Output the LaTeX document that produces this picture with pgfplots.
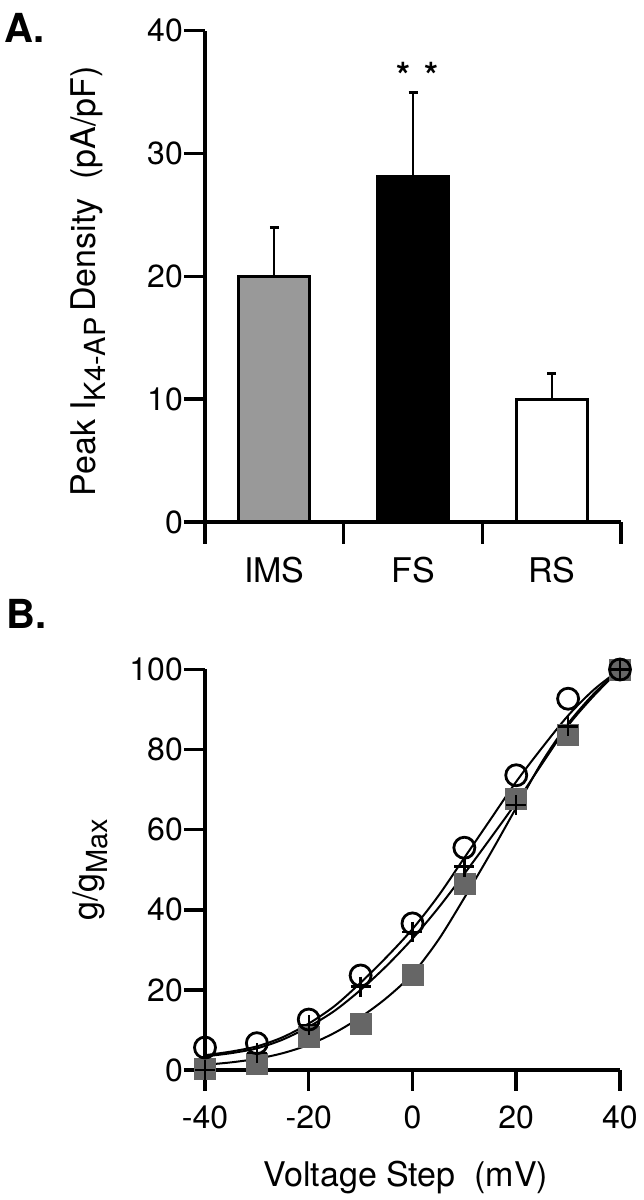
\documentclass[border=0pt]{standalone}
\usepackage{fontspec}
\setmainfont{TeX Gyre Heros}
\usepackage{pgfplots}
\pgfplotsset{compat=1.18}
\newcommand{\tickfont}{\fontsize{32}{36}\selectfont}
\newcommand{\labfont}{\fontsize{34}{38}\selectfont}
\newcommand{\subfont}{\fontsize{29}{32}\selectfont}
\begin{document}
\begin{tikzpicture}[x=1pt,y=1pt]
\useasboundingbox (0,0) rectangle (644,1200);
\node[anchor=north west, inner sep=0pt, font=\fontsize{40}{44}\selectfont\bfseries] at (4,1187) {A.};
\node[anchor=north west, inner sep=0pt, font=\fontsize{40}{44}\selectfont\bfseries] at (6,601) {B.};
% ---------------- Panel A ----------------
\begin{axis}[
  at={(205pt,678pt)}, anchor=south west, scale only axis,
  width=416pt, height=491.3pt,
  xmin=0, xmax=3, ymin=0, ymax=40,
  clip=false,
  axis x line*=bottom, axis y line*=left,
  x axis line style={line width=3.5pt,-},
  y axis line style={line width=3.5pt,-},
  tick align=outside,
  major tick length=21pt, minor tick length=22pt,
  tick style={black, line width=3.5pt},
  xtick={0.5,1.5,2.5}, xticklabels={IMS,FS,RS},
  major x tick style={draw=none},
  minor xtick={0,1,2,3},
  ytick={0,10,20,30,40}, yticklabels={0,10,20,30,40},
  xticklabel style={font=\labfont, inner sep=0pt, yshift=-14pt},
  yticklabel style={font=\tickfont, inner sep=1pt},
  ylabel={Peak I\raisebox{-10pt}{\subfont K4-AP}\,Density\ \ (pA/pF)},
  ylabel style={font=\labfont, at={(axis description cs:-0.28,0.49)}, anchor=center},
]
\addplot[ybar, bar shift=0pt, bar width=71pt, fill=black!40, draw=black, line width=3pt,
  error bars/.cd, y dir=plus, y explicit, error mark=-,
  error mark options={rotate=90, line width=3pt, mark size=4.5pt, black},
  error bar style={line width=2.2pt, black}]
  coordinates {(0.5,20) +- (0,4.0)};
\addplot[ybar, bar shift=0pt, bar width=71pt, fill=black, draw=black, line width=3pt,
  error bars/.cd, y dir=plus, y explicit, error mark=-,
  error mark options={rotate=90, line width=3pt, mark size=4.5pt, black},
  error bar style={line width=2.2pt, black}]
  coordinates {(1.5,28.1) +- (0,6.9)};
\addplot[ybar, bar shift=0pt, bar width=71pt, fill=white, draw=black, line width=3pt,
  error bars/.cd, y dir=plus, y explicit, error mark=-,
  error mark options={rotate=90, line width=3pt, mark size=4.5pt, black},
  error bar style={line width=2.2pt, black}]
  coordinates {(2.5,10) +- (0,2.1)};
\node[anchor=base, inner sep=0pt, font=\fontsize{36}{40}\selectfont\bfseries] at (axis cs:1.435,35.3) {*};
\node[anchor=base, inner sep=0pt, font=\fontsize{36}{40}\selectfont\bfseries] at (axis cs:1.63,35.3) {*};
\end{axis}
% ---------------- Panel B ----------------
\begin{axis}[
  at={(205pt,130pt)}, anchor=south west, scale only axis,
  width=415pt, height=400.5pt,
  xmin=-40, xmax=40, ymin=0, ymax=100,
  clip=false,
  axis x line*=bottom, axis y line*=left,
  x axis line style={line width=3.5pt,-},
  y axis line style={line width=3.5pt,-},
  tick align=outside,
  major tick length=21pt,
  tick style={black, line width=3.5pt},
  xtick={-40,-20,0,20,40}, xticklabels={-40,-20,0,20,40},
  ytick={0,20,40,60,80,100}, yticklabels={0,20,40,60,80,100},
  xticklabel style={font=\tickfont, inner sep=0pt, yshift=-15pt},
  yticklabel style={font=\tickfont, inner sep=1pt},
  xlabel={Voltage Step\ \ (mV)},
  xlabel style={font=\labfont, at={(axis description cs:0.484,0)}, anchor=center, yshift=-108pt},
  ylabel={g/g\raisebox{-10pt}{\subfont Max}},
  ylabel style={font=\labfont, at={(axis description cs:-0.277,0.5)}, anchor=center},
]
% fitted curves
\addplot[black, line width=2pt, smooth] coordinates {
(-40,3.7) (-35,4.6) (-30,5.9) (-25,8.2) (-20,11.6) (-15,16) (-10,21.8) (-5,28.2) (0,35.2) (5,43.5) (10,53) (15,62.5) (20,72) (25,80.5) (30,88.5) (35,95) (40,100)};
\addplot[black, line width=2pt, smooth] coordinates {
(-40,3.4) (-35,4.2) (-30,5.4) (-25,7.6) (-20,10.8) (-15,14.8) (-10,20) (-5,26) (0,32.8) (5,40.5) (10,49) (15,57.8) (20,66.8) (25,76.5) (30,86) (35,93.5) (40,100)};
\addplot[black, line width=2pt, smooth] coordinates {
(-40,1.3) (-35,1.9) (-30,2.8) (-25,4.2) (-20,6.3) (-15,9.3) (-10,13.2) (-5,18) (0,24) (5,32.5) (10,43) (15,54) (20,65.5) (25,77) (30,86.5) (35,94) (40,100)};
% squares
\addplot[only marks, mark=square*, mark size=10.5pt, mark options={fill=black!60, draw=black!60, line width=0.5pt}] coordinates {
(-40,0.4) (-30,1.5) (-20,8.3) (-10,11.6) (0,23.7) (10,46.6) (20,67.8) (30,83.6) (40,100)};
% crosses
\addplot[only marks, mark=+, mark size=10pt, mark options={black, line width=2.4pt}] coordinates {
(-40,0) (-30,4.2) (-20,11.2) (-10,20.8) (0,34.5) (10,50.8) (20,66.1) (30,85.8) (40,100)};
% circles
\addplot[only marks, mark=o, mark size=10.5pt, mark options={black, line width=2.8pt}] coordinates {
(-40,5.6) (-30,6.7) (-20,12.6) (-10,23.6) (0,36.6) (10,55.5) (20,73.6) (30,92.7) (40,100)};
\end{axis}
\end{tikzpicture}
\end{document}
